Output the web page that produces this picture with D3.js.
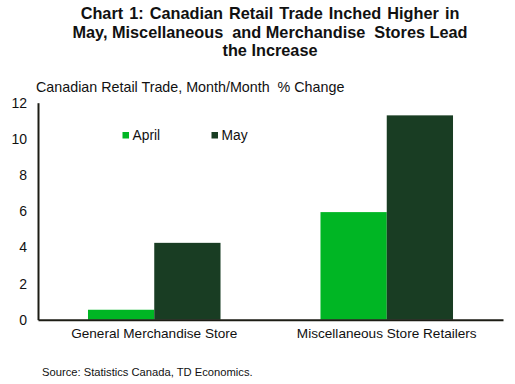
<!DOCTYPE html>
<html><head><meta charset="utf-8">
<script src="https://cdn.jsdelivr.net/npm/d3@7"></script>
<style>body{margin:0;background:#fff}svg{display:block}text{font-family:"Liberation Sans",Arial,sans-serif;fill:#111}</style>
</head><body>
<script>
const categories = ["General Merchandise Store", "Miscellaneous Store Retailers"];
const seriesNames = ["April", "May"];
const april = [0.55, 5.95];
const may = [4.25, 11.3];
const yTicks = [0, 2, 4, 6, 8, 10, 12];
const colors = ["#00b624", "#193d23"];
const titleLines = ["Chart 1: Canadian Retail Trade Inched Higher in", "May, Miscellaneous  and Merchandise  Stores Lead", "the Increase"];

const W = 515, H = 384;
const svg = d3.select("body").append("svg").attr("width", W).attr("height", H);

const x0 = d3.scaleBand().domain(categories).range([38, 503]).paddingInner(0.43).paddingOuter(0.215);
const x1 = d3.scaleBand().domain(seriesNames).range([0, x0.bandwidth()]);
const y = d3.scaleLinear().domain([0, 12]).range([319.7, 102.7]);

// title
svg.append("g").selectAll("text").data(titleLines).join("text")
  .attr("x", 270).attr("y", (d, i) => 19 + i * 18.5).attr("text-anchor", "middle")
  .style("font-weight", "bold").style("font-size", "16.3px").style("white-space", "pre")
  .style("word-spacing", (d, i) => i === 0 ? "1.5px" : "0px").text(d => d);

svg.append("text").attr("x", 36).attr("y", 92).style("font-size", "14.3px").style("white-space", "pre")
  .text("Canadian Retail Trade, Month/Month  % Change");

const data = categories.map((c, i) => ({ c, vals: [april[i], may[i]] }));
svg.append("g").selectAll("g").data(data).join("g")
  .attr("transform", d => `translate(${x0(d.c)},0)`)
  .selectAll("rect").data(d => d.vals.map((v, j) => ({ s: seriesNames[j], v, j })))
  .join("rect")
  .attr("x", d => x1(d.s)).attr("width", x1.bandwidth())
  .attr("y", d => y(d.v)).attr("height", d => y(0) - y(d.v))
  .attr("fill", d => colors[d.j]);

// y axis
const ya = svg.append("g").attr("transform", "translate(38,0)")
  .call(d3.axisLeft(y).tickValues(yTicks).tickSize(0).tickPadding(11));
ya.select(".domain").attr("stroke", "#1c1c14").attr("stroke-width", 2);
ya.selectAll("text").style("font-size", "14px").style("font-family", "Liberation Sans, Arial, sans-serif").attr("fill", "#111");

// x axis
const xa = svg.append("g").attr("transform", `translate(0,${y(0)})`)
  .call(d3.axisBottom(x0).tickSize(0).tickPadding(9));
xa.select(".domain").attr("stroke", "#1c1c14").attr("stroke-width", 2);
xa.selectAll("text").style("font-size", "13.6px").style("font-family", "Liberation Sans, Arial, sans-serif").attr("fill", "#111");

// legend
const legX = [122.5, 211.5];
const lg = svg.append("g").selectAll("g").data(seriesNames).join("g")
  .attr("transform", (d, i) => `translate(${legX[i]},135)`);
lg.append("rect").attr("x", 0).attr("y", -3).attr("width", 6.5).attr("height", 6.5).attr("fill", (d, i) => colors[i]);
lg.append("text").attr("x", 10).attr("y", 5).style("font-size", "13.8px").text(d => d);

svg.append("text").attr("x", 42).attr("y", 376).style("font-size", "11.2px").style("white-space", "pre")
  .text("Source: Statistics Canada, TD Economics.");
</script>
</body></html>
